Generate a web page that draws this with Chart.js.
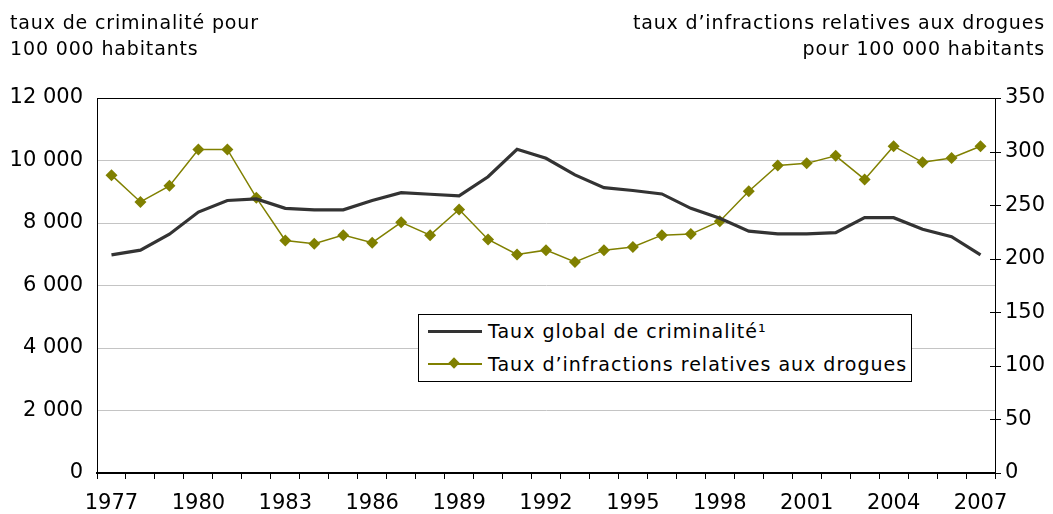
<!DOCTYPE html>
<html>
<head>
<meta charset="utf-8">
<script src="https://cdn.jsdelivr.net/npm/chart.js"></script>
<style>
  body { margin: 0; background: #fff; font-family: "DejaVu Sans", Verdana, sans-serif; }
  #wrap { position: relative; width: 1053px; height: 514px; }
  .title { position: absolute; font-size: 19px; letter-spacing: 0.85px; line-height: 26px; color: #000; }
  #legend { position: absolute; left: 418px; top: 314px; width: 492px; height: 66px;
            border: 1px solid #000; background: #fff; font-size: 19px; letter-spacing: 1px; }
  .row { position: absolute; left: 9px; height: 24px; display: flex; align-items: center; white-space: nowrap; }
  .sample { position: relative; width: 54px; height: 24px; margin-right: 6px; }
  .sample .ln { position: absolute; left: 0; right: 0; top: 50%; }
  .sample .pt { position: absolute; left: 22px; top: 7px; width: 8px; height: 8px; transform: rotate(45deg); }
</style>
</head>
<body>
<div id="wrap">
  <canvas id="chart" width="1053" height="514"></canvas>
  <div class="title" style="left:10px;top:9px;">taux de criminalité pour<br>100 000 habitants</div>
  <div class="title" style="right:8px;top:9px;text-align:right;">taux d’infractions relatives aux drogues<br>pour 100 000 habitants</div>
  <div id="legend"></div>
</div>
<script>
// --------- Data ---------
const years = [];
for (let y = 1977; y <= 2007; y++) years.push(String(y));

const crimeRate = [6980, 7130, 7640, 8350, 8720, 8770, 8470, 8420, 8420, 8720,
  8970, 8920, 8870, 9480, 10360, 10070, 9540, 9130, 9040, 8930,
  8470, 8150, 7740, 7650, 7650, 7690, 8170, 8170, 7800, 7560, 6980];

const drugRate = [278, 253, 268, 302, 302, 257, 217, 214, 222, 215,
  234, 222, 246, 218, 204, 208, 197, 208, 211, 222,
  223, 235, 263, 287, 289, 296, 274, 305, 290, 294, 305];

const leftTicks = { min: 0, max: 12000, step: 2000 };
const rightTicks = { min: 0, max: 350, step: 50 };

const crimeLabel = "Taux global de criminalité¹";
const drugLabel = "Taux d’infractions relatives aux drogues";

const olive = "#808000";
const dark = "#333333";

function fmt(n) {
  return String(n).replace(/\B(?=(\d{3})+(?!\d))/g, " ");
}

// --------- Extra drawing: top border, crossing ticks on right axis ---------
const framePlugin = {
  id: "frame",
  afterDraw(chart) {
    const { ctx, chartArea } = chart;
    const r = chart.scales.y1;
    ctx.save();
    ctx.strokeStyle = "#000";
    ctx.lineWidth = 1;
    ctx.beginPath();
    ctx.moveTo(chartArea.left, chartArea.top + 0.5);
    ctx.lineTo(chartArea.right, chartArea.top + 0.5);
    ctx.stroke();
    r.ticks.forEach(t => {
      const y = Math.round(r.getPixelForValue(t.value)) + 0.5;
      ctx.beginPath();
      ctx.moveTo(chartArea.right - 5, y);
      ctx.lineTo(chartArea.right + 6, y);
      ctx.stroke();
    });
    ctx.restore();
  }
};

const tickFont = { family: "'DejaVu Sans', Verdana, sans-serif", size: 21 };

const chart = new Chart(document.getElementById("chart"), {
  type: "line",
  data: {
    labels: years,
    datasets: [
      {
        label: crimeLabel,
        data: crimeRate,
        yAxisID: "y",
        borderColor: dark,
        borderWidth: 3.2,
        pointRadius: 0,
        tension: 0
      },
      {
        label: drugLabel,
        data: drugRate,
        yAxisID: "y1",
        borderColor: olive,
        backgroundColor: olive,
        borderWidth: 1.5,
        pointStyle: "rectRot",
        pointRadius: 6,
        pointBorderWidth: 0,
        tension: 0
      }
    ]
  },
  options: {
    responsive: false,
    animation: false,
    layout: { padding: { top: 98, left: 0, right: 0, bottom: 0 } },
    plugins: { legend: { display: false }, tooltip: { enabled: false } },
    scales: {
      x: {
        offset: true,
        grid: { offset: true, drawOnChartArea: false, tickLength: 6, color: "#000" },
        border: { color: "#000", width: 2 },
        ticks: {
          autoSkip: false, maxRotation: 0, color: "#000", font: tickFont, padding: 12,
          callback: (v, i) => (i % 3 === 0 ? years[i] : "")
        },
        afterFit: s => { s.height = 41; }
      },
      y: {
        position: "left",
        min: leftTicks.min, max: leftTicks.max,
        grid: { color: "#c4c4c4", drawTicks: false },
        border: { color: "#000", width: 1 },
        ticks: { stepSize: leftTicks.step, color: "#000", font: tickFont, padding: 14, callback: v => fmt(v) },
        afterFit: s => { s.width = 97; }
      },
      y1: {
        position: "right",
        min: rightTicks.min, max: rightTicks.max,
        grid: { drawOnChartArea: false, drawTicks: false },
        border: { color: "#000", width: 1 },
        ticks: { stepSize: rightTicks.step, color: "#000", font: tickFont, padding: 10 },
        afterFit: s => { s.width = 58; }
      }
    }
  },
  plugins: [framePlugin]
});

// --------- Legend ---------
const legend = document.getElementById("legend");
chart.data.datasets.forEach((ds, i) => {
  const row = document.createElement("div");
  row.className = "row";
  row.style.top = (i === 0 ? 4 : 37) + "px";
  const pt = ds.pointRadius ? `<div class="pt" style="background:${ds.borderColor}"></div>` : "";
  row.innerHTML = `<div class="sample"><div class="ln" style="border-top:${ds.pointRadius ? 2 : 3}px solid ${ds.borderColor};margin-top:-1px"></div>${pt}</div><span>${ds.label}</span>`;
  legend.appendChild(row);
});
</script>
</body>
</html>
